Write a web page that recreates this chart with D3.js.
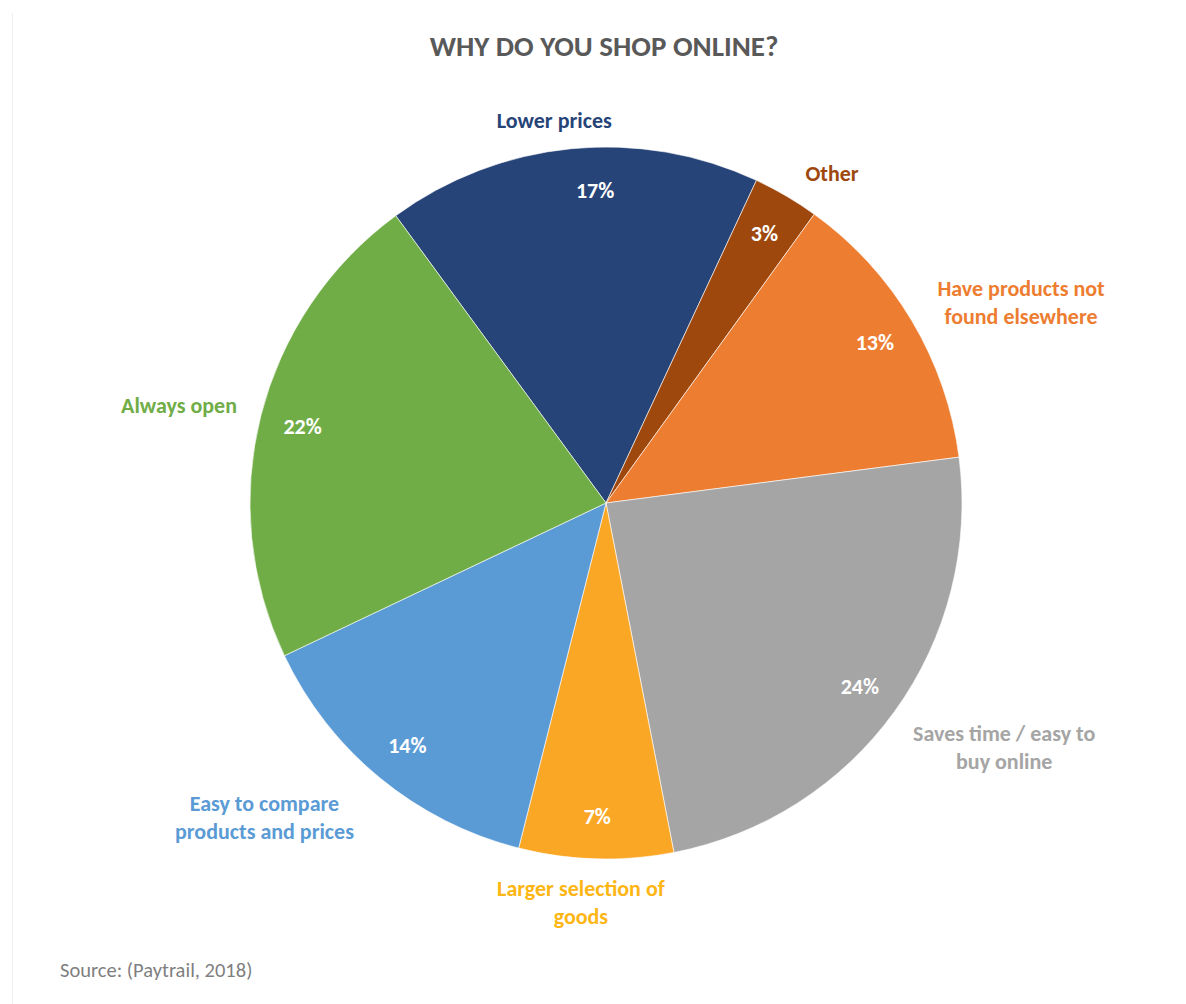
<!DOCTYPE html>
<html>
<head>
<meta charset="utf-8">
<script src="https://cdn.jsdelivr.net/npm/d3@7"></script>
<style>
  html, body { margin: 0; padding: 0; background: #fff; }
  svg { display: block; }
</style>
</head>
<body>
<svg id="chart" width="1186" height="1004"></svg>
<script>
// Survey answers, in drawing order (clockwise)
const categories = [
  "Lower prices",
  "Other",
  "Have products not found elsewhere",
  "Saves time / easy to buy online",
  "Larger selection of goods",
  "Easy to compare products and prices",
  "Always open"
];
const shares = [17, 3, 13, 24, 7, 14, 22];

// Label text broken into lines
const labelLines = [
  ["Lower prices"],
  ["Other"],
  ["Have products not", "found elsewhere"],
  ["Saves time / easy to", "buy online"],
  ["Larger selection of", "goods"],
  ["Easy to compare", "products and prices"],
  ["Always open"]
];

const sliceColors = ["#264478", "#9E480E", "#ED7D31", "#A5A5A5", "#FBA726", "#5B9BD5", "#70AD47"];
const textColors  = ["#264478", "#9E480E", "#ED7D31", "#A5A5A5", "#FDB614", "#5B9BD5", "#70AD47"];

// Outside label placement: angle nudge (degrees) from slice middle, and distance from centre
const labelNudge  = [-2.1, 4, 5, -4.3, 2, 8, -1.3];
const labelRadius = [386, 400, 461, 467, 400, 464, 438];
// Percentage label angle nudge (degrees)
const pctNudge = [3.6, 0, 0, 0, 0, 0, 0];

const cx = 606, cy = 503, radius = 356;
const font = "Carlito, Calibri, Lato, 'Open Sans', sans-serif";

const svg = d3.select("#chart");

// faint frame edge on the left
svg.append("line")
  .attr("x1", 12.5).attr("x2", 12.5).attr("y1", 13).attr("y2", 1004)
  .attr("stroke", "#eeeeee").attr("stroke-width", 1);

svg.append("text")
  .attr("x", 604).attr("y", 56)
  .attr("text-anchor", "middle")
  .attr("font-family", font)
  .attr("font-weight", 700)
  .attr("font-size", 29)
  .attr("fill", "#595959")
  .text("WHY DO YOU SHOP ONLINE?");

const data = categories.map((c, i) => ({ name: c, value: shares[i], i }));

const startDeg = -36.2;
const pie = d3.pie()
  .value(d => d.value)
  .sort(null)
  .startAngle(startDeg * Math.PI / 180)
  .endAngle((startDeg + 360) * Math.PI / 180);

const arcs = pie(data);
const arc = d3.arc().innerRadius(0).outerRadius(radius);

const g = svg.append("g").attr("transform", `translate(${cx},${cy})`);

g.selectAll("path.slice")
  .data(arcs)
  .join("path")
  .attr("class", "slice")
  .attr("d", arc)
  .attr("fill", d => sliceColors[d.data.i])
  .attr("stroke", "#ffffff")
  .attr("stroke-width", 1)
  .attr("stroke-opacity", 0.6);

const polar = (a, r) => [r * Math.sin(a), -r * Math.cos(a)];
const midAngle = d => (d.startAngle + d.endAngle) / 2;

// percentage labels inside the slices
g.selectAll("text.pct")
  .data(arcs)
  .join("text")
  .attr("class", "pct")
  .attr("transform", d => `translate(${polar(midAngle(d) + pctNudge[d.data.i] * Math.PI / 180, 313)})`)
  .attr("text-anchor", "middle")
  .attr("dy", "0.35em")
  .attr("font-family", font)
  .attr("font-weight", 700)
  .attr("font-size", 22)
  .attr("fill", "#ffffff")
  .text(d => d.data.value + "%");

// category labels outside the pie
const lineHeight = 28;
g.selectAll("text.cat")
  .data(arcs)
  .join("text")
  .attr("class", "cat")
  .attr("transform", d => {
    const i = d.data.i;
    return `translate(${polar(midAngle(d) + labelNudge[i] * Math.PI / 180, labelRadius[i])})`;
  })
  .attr("text-anchor", "middle")
  .attr("font-family", font)
  .attr("font-weight", 700)
  .attr("font-size", 22)
  .attr("fill", d => textColors[d.data.i])
  .each(function (d) {
    const lines = labelLines[d.data.i];
    const t = d3.select(this);
    const offset = -(lines.length - 1) * lineHeight / 2;
    lines.forEach((ln, k) => {
      t.append("tspan")
        .attr("x", 0)
        .attr("y", offset + k * lineHeight)
        .attr("dy", "0.35em")
        .text(ln);
    });
  });

svg.append("text")
  .attr("x", 60).attr("y", 977)
  .attr("font-family", font)
  .attr("font-size", 20.5)
  .attr("fill", "#7f7f7f")
  .text("Source: (Paytrail, 2018)");
</script>
</body>
</html>
